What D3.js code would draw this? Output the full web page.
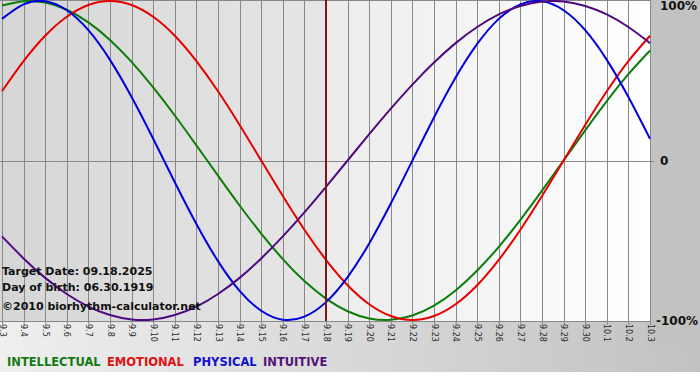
<!DOCTYPE html>
<html><head><meta charset="utf-8">
<script src="https://cdn.jsdelivr.net/npm/d3@7"></script>
<style>html,body{margin:0;padding:0;background:#fff;}svg{display:block;}</style>
</head><body>
<svg id="c" width="700" height="380"></svg>
<script>
const days = ["9.3","9.4","9.5","9.6","9.7","9.8","9.9","9.10","9.11","9.12","9.13","9.14","9.15","9.16","9.17","9.18","9.19","9.20","9.21","9.22","9.23","9.24","9.25","9.26","9.27","9.28","9.29","9.30","10.1","10.2","10.3"];
const intellectual = [0.972,0.999,0.990,0.945,0.866,0.756,0.618,0.458,0.282,0.095,-0.095,-0.282,-0.458,-0.618,-0.756,-0.866,-0.945,-0.990,-0.999,-0.972,-0.910,-0.815,-0.690,-0.541,-0.372,-0.189,0,0.189,0.372,0.541,0.690];
const emotional = [0.434,0.623,0.782,0.901,0.975,1,0.975,0.901,0.782,0.623,0.434,0.223,0,-0.223,-0.434,-0.623,-0.782,-0.901,-0.975,-1,-0.975,-0.901,-0.782,-0.623,-0.434,-0.223,0,0.223,0.434,0.623,0.782];
const physical = [0.888,0.979,0.998,0.942,0.817,0.631,0.398,0.136,-0.136,-0.398,-0.631,-0.817,-0.942,-0.998,-0.979,-0.888,-0.731,-0.520,-0.270,0,0.270,0.520,0.731,0.888,0.979,0.998,0.942,0.817,0.631,0.398,0.136];
const intuitive = [-0.476,-0.614,-0.736,-0.837,-0.916,-0.969,-0.997,-0.997,-0.969,-0.916,-0.837,-0.736,-0.614,-0.476,-0.325,-0.165,0,0.165,0.325,0.476,0.614,0.736,0.837,0.916,0.969,0.997,0.997,0.969,0.916,0.837,0.736];
const yTicks = [1, 0, -1];
const yTickLabels = ["100%", "0", "-100%"];
const targetDay = "9.18";
const infoLines = ["Target Date: 09.18.2025", "Day of birth: 06.30.1919", "\u00a92010 biorhythm-calculator.net"];
const legendNames = ["INTELLECTUAL", "EMOTIONAL", "PHYSICAL", "INTUITIVE"];

(function(){
const colors = {INTELLECTUAL:"#0a7d0a", EMOTIONAL:"#e60000", PHYSICAL:"#0000dd", INTUITIVE:"#4f0a80"};
const legendColors = {INTELLECTUAL:"#137a13", EMOTIONAL:"#e01010", PHYSICAL:"#1010d0", INTUITIVE:"#52127a"};
const legendX = [7, 107, 193, 263];

const svg = d3.select("#c");
const defs = svg.append("defs");
function grad(id, c1, c2){
  const g = defs.append("linearGradient").attr("id", id).attr("x1","0%").attr("x2","100%").attr("y1","0%").attr("y2","0%");
  g.append("stop").attr("offset","0%").attr("stop-color", c1);
  g.append("stop").attr("offset","100%").attr("stop-color", c2);
}
grad("gBottom", "#efefef", "#c2c2c2");
grad("gLeft", "#d6d6d6", "#e6e6e6");
grad("gRight", "#ececec", "#ffffff");

const pL = 0, pR = 651, pT = 0, pB = 321;
const x = d3.scalePoint().domain(days).range([2, 650]);
const y = d3.scaleLinear().domain([-1, 1]).range([320, 1]);
const tx = x(targetDay);

// backgrounds
svg.append("rect").attr("x",0).attr("y",0).attr("width",700).attr("height",372).attr("fill","url(#gBottom)");
svg.append("rect").attr("x",pR).attr("y",0).attr("width",700-pR).attr("height",345).attr("fill","#c2c2c2");
svg.append("rect").attr("x",pL).attr("y",pT).attr("width",tx-pL).attr("height",pB-pT).attr("fill","url(#gLeft)");
svg.append("rect").attr("x",tx).attr("y",pT).attr("width",pR-tx).attr("height",pB-pT).attr("fill","url(#gRight)");

// grid
const grid = svg.append("g").attr("stroke","#888").attr("stroke-width",1).attr("shape-rendering","crispEdges");
grid.selectAll("line.v").data(days).join("line").attr("class","v")
  .attr("x1", d=>Math.round(x(d))+0.5).attr("x2", d=>Math.round(x(d))+0.5)
  .attr("y1", pT).attr("y2", pB);
grid.append("line").attr("x1",pL).attr("x2",pR+3).attr("y1",Math.round(y(0))+0.5).attr("y2",Math.round(y(0))+0.5);
grid.append("line").attr("x1",pL).attr("x2",pR).attr("y1",0.5).attr("y2",0.5);
grid.append("line").attr("x1",pL).attr("x2",pR).attr("y1",pB+0.5).attr("y2",pB+0.5);

// x axis labels
const xAxis = d3.axisBottom(x).tickSize(4).tickSizeOuter(0);
const ax = svg.append("g").attr("transform",`translate(0,${pB})`).call(xAxis);
ax.select(".domain").remove();
ax.selectAll(".tick line").attr("stroke","#888");
ax.selectAll(".tick text")
  .attr("transform","rotate(90)")
  .attr("x", 3).attr("y", 0).attr("dy","0.35em")
  .attr("text-anchor","start")
  .attr("fill","#2a2a2a")
  .style("font-family","'DejaVu Sans', Verdana, sans-serif")
  .style("font-size","8px");

// right labels
svg.append("g").selectAll("text").data(yTicks).join("text")
  .attr("x", (d,i)=> i===2 ? 656 : 660)
  .attr("y", d=> y(d))
  .attr("dy", (d,i)=> i===0 ? "0.75em" : "0.4em")
  .text((d,i)=>yTickLabels[i])
  .attr("fill","#111")
  .style("font-family","'DejaVu Sans', Verdana, sans-serif")
  .style("font-weight","bold")
  .style("font-size","12px");

// curves
const line = d3.line().x((d,i)=>x(days[i])).y(d=>y(d)).curve(d3.curveNatural);
const series = [["INTELLECTUAL", intellectual],["EMOTIONAL", emotional],["PHYSICAL", physical],["INTUITIVE", intuitive]];
svg.append("g").attr("fill","none").attr("stroke-width",2).selectAll("path").data(series).join("path")
  .attr("d", d=>line(d[1])).attr("stroke", d=>colors[d[0]]);

// target line
svg.append("line").attr("x1",tx).attr("x2",tx).attr("y1",pT).attr("y2",pB)
  .attr("stroke","#7d1818").attr("stroke-width",2);

// info text
svg.append("g").selectAll("text").data(infoLines).join("text")
  .attr("x", 2).attr("y", (d,i)=>[275, 291, 310][i])
  .text(d=>d).attr("fill","#111")
  .style("font-family","'DejaVu Sans', Verdana, sans-serif")
  .style("font-weight","bold").style("font-size","11px");

// legend
svg.append("g").selectAll("text").data(legendNames).join("text")
  .attr("x", (d,i)=>legendX[i]).attr("y", 366)
  .text(d=>d).attr("fill", d=>legendColors[d])
  .style("font-family","'DejaVu Sans', Verdana, sans-serif")
  .style("font-weight","bold").style("font-size","11.5px");
})();
</script>
</body></html>
